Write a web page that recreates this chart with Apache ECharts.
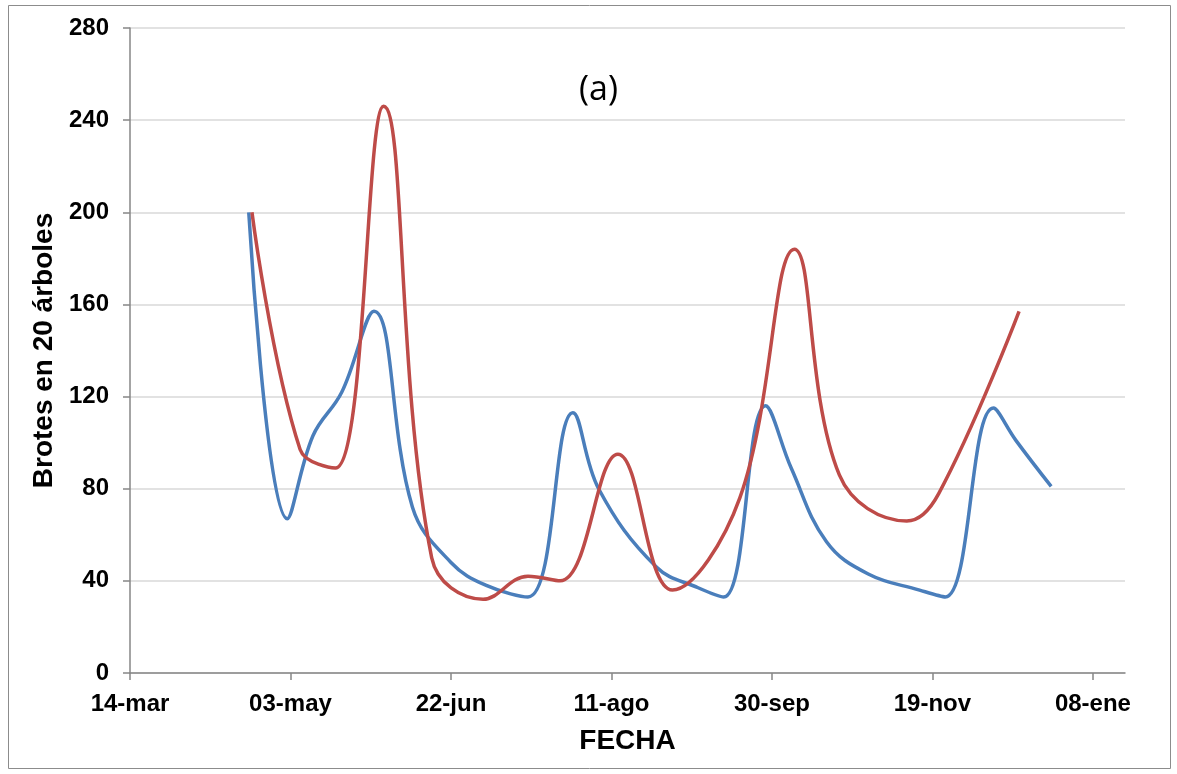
<!DOCTYPE html>
<html><head><meta charset="utf-8">
<script src="https://cdn.jsdelivr.net/npm/echarts@6/dist/echarts.min.js"></script>
<style>html,body{margin:0;padding:0;background:#fff}#c{width:1177px;height:774px}</style>
</head><body><div id="c"></div>
<script>
// ---- data ----
const axisStartDate = '2013-03-14';
const xTickDays = [0, 50, 100, 150, 200, 250, 300];
const xTickLabels = ['14-mar', '03-may', '22-jun', '11-ago', '30-sep', '19-nov', '08-ene'];
const yTickValues = [0, 40, 80, 120, 160, 200, 240, 280];

const azulFechas = ['2013-04-20','2013-05-02','2013-05-10','2013-05-19','2013-05-29','2013-06-10','2013-06-22','2013-07-03','2013-07-16','2013-07-30','2013-08-07','2013-08-25','2013-09-07','2013-09-15','2013-09-28','2013-10-06','2013-10-17','2013-10-30','2013-11-15','2013-11-23','2013-12-08','2013-12-15','2013-12-26'];
const azulValores = [200, 67, 103, 122, 157, 72, 48, 38, 33, 113, 80, 46, 37, 33, 116, 89, 57, 43, 36, 33, 115, 101, 81];

const rojoFechas = ['2013-04-21','2013-05-06','2013-05-17','2013-06-01','2013-06-16','2013-07-02','2013-07-16','2013-07-26','2013-08-13','2013-08-30','2013-09-20','2013-10-07','2013-10-21','2013-11-11','2013-11-21','2013-12-16'];
const rojoValores = [200, 97, 89, 246, 50, 32, 42, 40, 95, 36, 76, 184, 86, 66, 78, 157];

// ---- helpers ----
const DAY = 86400000;
const t0 = Date.parse(axisStartDate + 'T00:00:00Z');
function toDay(s) { return Math.round((Date.parse(s + 'T00:00:00Z') - t0) / DAY); }
function pairs(dates, vals) { return dates.map((d, i) => [toDay(d), vals[i]]); }

const font = '"Liberation Sans", Arial, sans-serif';
const chart = echarts.init(document.getElementById('c'), null, {renderer: 'canvas'});
chart.setOption({
  animation: false,
  backgroundColor: '#fff',
  title: {
    text: '(a)', left: 574, top: 68,
    textStyle: {fontFamily: '"Open Sans", "Liberation Sans", sans-serif', fontWeight: 'normal', fontSize: 34, color: '#000'}
  },
  graphic: [{
    type: 'rect', shape: {x: 8.5, y: 5.5, width: 1162, height: 763},
    style: {fill: 'none', stroke: '#8c8c8c', lineWidth: 1}, silent: true, z: -1
  }],
  grid: {left: 130, right: 52, top: 28, bottom: 101, containLabel: false},
  xAxis: {
    type: 'value', min: 0, max: 310, interval: 50,
    name: 'FECHA', nameLocation: 'middle', nameGap: 54,
    nameTextStyle: {fontFamily: font, fontWeight: 'bold', fontSize: 28, color: '#000'},
    axisLine: {show: true, lineStyle: {color: '#868686', width: 1.5}},
    axisTick: {show: true, length: 7, lineStyle: {color: '#868686', width: 1.5}, customValues: xTickDays},
    axisLabel: {
      customValues: xTickDays, margin: 19,
      fontFamily: font, fontWeight: 'bold', fontSize: 24, color: '#000',
      formatter: v => xTickLabels[xTickDays.indexOf(v)] || ''
    },
    splitLine: {show: false}
  },
  yAxis: {
    type: 'value', min: 0, max: 280, interval: 40,
    name: 'Brotes en 20 árboles', nameLocation: 'middle', nameGap: 72,
    nameTextStyle: {fontFamily: font, fontWeight: 'bold', fontSize: 28, color: '#000'},
    axisLine: {show: true, lineStyle: {color: '#868686', width: 1.5}},
    axisTick: {show: true, length: 7, lineStyle: {color: '#868686', width: 1.5}},
    axisLabel: {
      margin: 21, fontFamily: font, fontWeight: 'bold', fontSize: 24, color: '#000',
      formatter: v => (yTickValues.indexOf(v) >= 0 ? String(v) : '')
    },
    splitLine: {show: true, lineStyle: {color: '#d9d9d9', width: 1.5}}
  },
  series: [
    {
      name: 'Serie azul', type: 'line', data: pairs(azulFechas, azulValores),
      smooth: 0.4, showSymbol: false, symbol: 'none',
      lineStyle: {color: '#4a7ebb', width: 3.5}, z: 2
    },
    {
      name: 'Serie roja', type: 'line', data: pairs(rojoFechas, rojoValores),
      smooth: 0.4, showSymbol: false, symbol: 'none',
      lineStyle: {color: '#be4b48', width: 3.5}, z: 3
    }
  ]
});
</script>
</body></html>
